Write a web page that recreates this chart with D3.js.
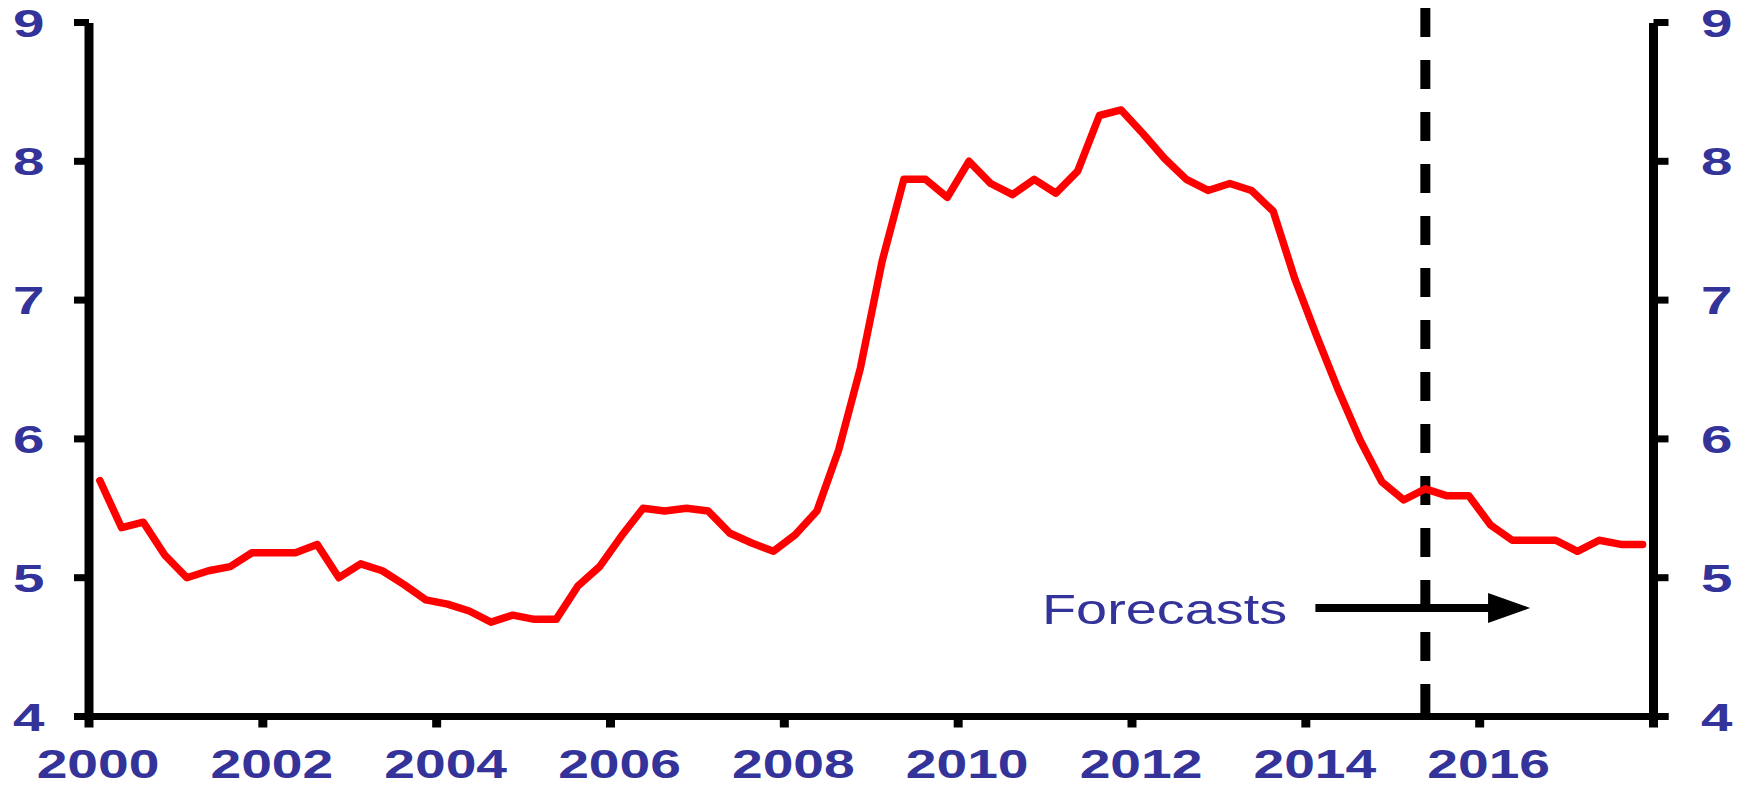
<!DOCTYPE html>
<html>
<head>
<meta charset="utf-8">
<script src="https://cdn.jsdelivr.net/npm/d3@7/dist/d3.min.js"></script>
<style>
  html, body { margin: 0; padding: 0; background: #fff; }
  svg { display: block; }
</style>
</head>
<body>
<svg id="chart" width="1742" height="787"></svg>
<script>
// Quarterly series, 2000 Q1 to 2017 Q4 (plotted at mid-quarter)
const startYear = 2000;
const rate = [
  5.70, 5.36, 5.40, 5.16,   // 2000
  5.00, 5.05, 5.08, 5.18,   // 2001
  5.18, 5.18, 5.24, 5.00,   // 2002
  5.10, 5.05, 4.95, 4.84,   // 2003
  4.81, 4.76, 4.68, 4.73,   // 2004
  4.70, 4.70, 4.94, 5.08,   // 2005
  5.30, 5.50, 5.48, 5.50,   // 2006
  5.48, 5.32, 5.25, 5.19,   // 2007
  5.31, 5.48, 5.92, 6.51,   // 2008
  7.28, 7.87, 7.87, 7.74,   // 2009
  8.00, 7.84, 7.76, 7.87,   // 2010
  7.77, 7.93, 8.33, 8.37,   // 2011
  8.20, 8.02, 7.87, 7.79,   // 2012
  7.84, 7.79, 7.64, 7.15,   // 2013
  6.74, 6.35, 5.99, 5.69,   // 2014
  5.56, 5.64, 5.59, 5.59,   // 2015
  5.38, 5.27, 5.27, 5.27,   // 2016
  5.19, 5.27, 5.24, 5.24    // 2017
];
const yearTicks = [2000, 2002, 2004, 2006, 2008, 2010, 2012, 2014, 2016, 2018];
const yearLabels = ["2000", "2002", "2004", "2006", "2008", "2010", "2012", "2014", "2016"];
const valueTicks = [4, 5, 6, 7, 8, 9];
const forecastStart = 2015.375;       // first forecast quarter (2015 Q2)
const forecastArrow = [2014.11, 2016.58];
const forecastLabel = "Forecasts";

const textColor = "#333399";
const svg = d3.select("#chart");

const x = d3.scaleLinear().domain([2000, 2018]).range([89, 1653.5]);
const y = d3.scaleLinear().domain([4, 9]).range([716.5, 22.5]);

const series = rate.map((v, i) => ({ t: startYear + (i + 0.5) / 4, v }));

// forecast divider
svg.append("line")
  .attr("x1", x(forecastStart)).attr("x2", x(forecastStart))
  .attr("y1", 8).attr("y2", y(4))
  .attr("stroke", "#000").attr("stroke-width", 10)
  .attr("stroke-dasharray", "29 23");

// forecast arrow
const ay = 608;
svg.append("line")
  .attr("x1", x(forecastArrow[0])).attr("x2", x(forecastArrow[1]) - 38)
  .attr("y1", ay).attr("y2", ay)
  .attr("stroke", "#000").attr("stroke-width", 8);
svg.append("path")
  .attr("d", d3.line()([
    [x(forecastArrow[1]) - 42, ay - 15],
    [x(forecastArrow[1]), ay],
    [x(forecastArrow[1]) - 42, ay + 15]
  ]) + "Z")
  .attr("fill", "#000");

svg.append("g")
  .attr("transform", `translate(1042,624) scale(1.33,1)`)
  .append("text")
  .attr("font-family", "'Liberation Sans', Arial, sans-serif")
  .attr("font-size", 42)
  .attr("fill", textColor)
  .text(forecastLabel);

// data line
svg.append("path")
  .datum(series)
  .attr("d", d3.line().x(d => x(d.t)).y(d => y(d.v)))
  .attr("fill", "none")
  .attr("stroke", "#ff0000")
  .attr("stroke-width", 7.5)
  .attr("stroke-linejoin", "round")
  .attr("stroke-linecap", "round");

// axes frame
const axisG = svg.append("g").attr("stroke", "#000");
// y ticks, left and right
valueTicks.forEach(v => {
  axisG.append("line").attr("x1", x(2000) - 15).attr("x2", x(2000))
    .attr("y1", y(v)).attr("y2", y(v)).attr("stroke-width", 7);
  axisG.append("line").attr("x1", x(2018)).attr("x2", x(2018) + 15)
    .attr("y1", y(v)).attr("y2", y(v)).attr("stroke-width", 7);
});
// x ticks
yearTicks.forEach(t => {
  axisG.append("line").attr("x1", x(t)).attr("x2", x(t))
    .attr("y1", y(4)).attr("y2", y(4) + 11).attr("stroke-width", 9);
});
// left, right and bottom lines
axisG.append("line").attr("x1", x(2000)).attr("x2", x(2000))
  .attr("y1", y(9) + 0.5).attr("y2", y(4) + 3.5).attr("stroke-width", 9);
axisG.append("line").attr("x1", x(2018)).attr("x2", x(2018))
  .attr("y1", y(9) + 0.5).attr("y2", y(4) + 3.5).attr("stroke-width", 9);
axisG.append("line").attr("x1", x(2000) - 15).attr("x2", x(2018) + 15)
  .attr("y1", y(4)).attr("y2", y(4)).attr("stroke-width", 7);

// tick labels
const labelFont = "'Liberation Sans', Arial, sans-serif";
valueTicks.forEach(v => {
  svg.append("g")
    .attr("transform", `translate(44.5,${y(v) + 14}) scale(1.45,1)`)
    .append("text")
    .attr("text-anchor", "end")
    .attr("font-family", labelFont).attr("font-weight", "bold")
    .attr("font-size", 39).attr("fill", textColor)
    .text(v);
  svg.append("g")
    .attr("transform", `translate(1701,${y(v) + 14}) scale(1.45,1)`)
    .append("text")
    .attr("text-anchor", "start")
    .attr("font-family", labelFont).attr("font-weight", "bold")
    .attr("font-size", 39).attr("fill", textColor)
    .text(v);
});
yearLabels.forEach(lbl => {
  svg.append("g")
    .attr("transform", `translate(${x(+lbl) + 9},778) scale(1.38,1)`)
    .append("text")
    .attr("text-anchor", "middle")
    .attr("font-family", labelFont).attr("font-weight", "bold")
    .attr("font-size", 40).attr("fill", textColor)
    .text(lbl);
});
</script>
</body>
</html>
